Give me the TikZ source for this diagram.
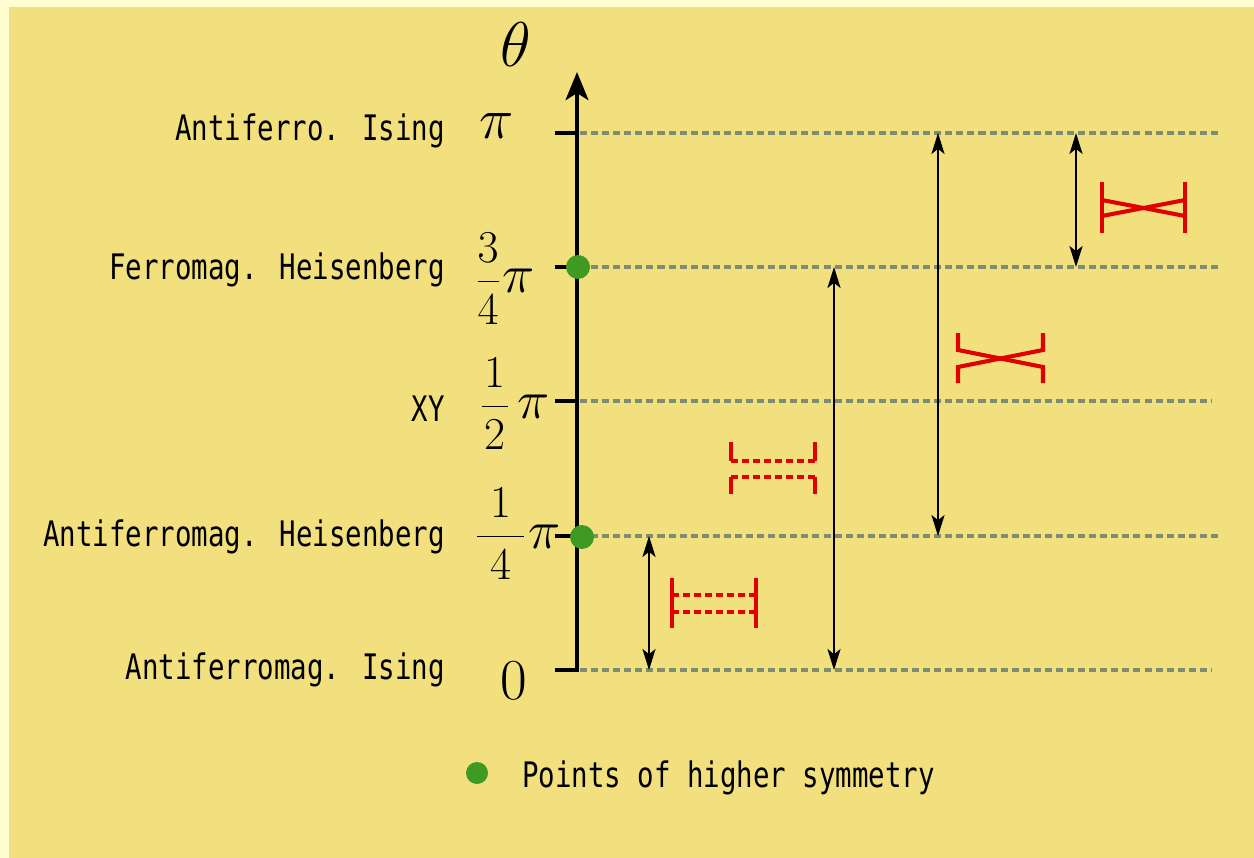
\documentclass[tikz,border=0pt]{standalone}
\usepackage{fix-cm}
\usepackage{fontspec}
\newfontfamily\phasefont[FakeStretch=0.78]{DejaVu Sans Mono}
\usetikzlibrary{arrows.meta}
\definecolor{bgyellow}{RGB}{242,224,126}
\definecolor{bgedge}{RGB}{255,253,208}
\definecolor{levelgray}{RGB}{126,140,114}
\definecolor{symred}{RGB}{224,0,0}
\definecolor{symgreen}{RGB}{62,154,34}
\newcommand{\bigpi}{{\fontsize{31}{36}\selectfont$\pi$}}

\begin{document}
\begin{tikzpicture}[x=0.02cm, y=-0.02cm,
    axis/.style={line width=2.3pt},
    level/.style={draw=levelgray, line width=2.3pt, dash pattern=on 4pt off 2.3pt},
    span/.style={{Stealth[length=12pt,width=7.5pt,inset=3pt]}-{Stealth[length=12pt,width=7.5pt,inset=3pt]}, line width=0.85pt},
    bond/.style={draw=symred, line width=2.3pt},
    weakbond/.style={bond, dash pattern=on 4pt off 2.3pt},
    phase/.style={anchor=base east, inner sep=0pt, font=\phasefont\fontsize{20}{24}\selectfont},
    val/.style={inner sep=0pt, font=\fontsize{33}{38}\selectfont},
    frac/.style={anchor=base east, inner sep=0pt, font=\fontsize{26}{30}\selectfont},
    dot/.style={circle, fill=symgreen, inner sep=0pt, minimum size=0.48cm}
  ]
  \fill[bgedge] (0,0) rectangle (1254,858);
  \fill[bgyellow] (9,7) rectangle (1254,858);
  \useasboundingbox (0,0) rectangle (1254,858);

  \coordinate (t0) at (577,670);
  \coordinate (t1) at (577,536);
  \coordinate (t2) at (577,401);
  \coordinate (t3) at (577,267);
  \coordinate (t4) at (577,133);
  \coordinate (tip) at (577,72);
  \coordinate (r1) at (1220,0);
  \coordinate (r2) at (1212,0);
  \coordinate (c1) at (649,0);
  \coordinate (c2) at (834,0);
  \coordinate (c3) at (938,0);
  \coordinate (c4) at (1076,0);

  \draw[level] ([xshift=0.06cm]t4) -- (t4 -| r1);
  \draw[level] ([xshift=0.06cm]t3) -- (t3 -| r1);
  \draw[level] ([xshift=0.06cm]t2) -- (t2 -| r2);
  \draw[level] ([xshift=0.06cm]t1) -- (t1 -| r1);
  \draw[level] ([xshift=0.06cm]t0) -- (t0 -| r2);

  \draw[axis, -{Stealth[length=16pt,width=13pt,inset=4pt]}] ([xshift=-0.44cm]t0) -- (t0) -- (tip);
  \foreach \t in {t1,t2,t3,t4}
    \draw[axis] ([xshift=-0.44cm]\t) -- (\t);

  \node[val, font=\fontsize{36}{40}\selectfont] (theta) at (516,45) {$\theta$};
  \node[val] (v4) at (497,126) {$\pi$};
  \node[frac] (v3) at (535,293) {$\displaystyle\frac{3}{4}$\kern1pt\bigpi};
  \node[frac] (v2) at (550,418) {$\displaystyle\frac{\mkern1mu 1\mkern1mu}{\mkern1mu 2\mkern1mu}\mkern3mu$\bigpi};
  \node[frac] (v1) at (561,548) {$\displaystyle\frac{\mkern5mu 1\mkern5mu}{\mkern5mu 4\mkern5mu}\mkern1mu$\bigpi};
  \node[val] (v0) at (514,681) {$0$};

  \node[dot] (p3) at (578,267) {};
  \node[dot] (p1) at (582,537) {};

  \node[phase] (afis) at (445,141) {Antiferro. Ising};
  \node[phase] (fheis) at (445,279) {Ferromag. Heisenberg};
  \node[phase] (xy) at (445,421) {XY};
  \node[phase] (afheis) at (445,546) {Antiferromag. Heisenberg};
  \node[phase] (afising) at (445,679) {Antiferromag. Ising};

  \draw[span] (c1 |- t1) -- (c1 |- t0);
  \draw[span] (c2 |- t3) -- (c2 |- t0);
  \draw[span] (c3 |- t4) -- (c3 |- t1);
  \draw[span] (c4 |- t4) -- (c4 |- t3);

  \draw[bond] (672,578) -- (672,628);
  \draw[bond] (756,578) -- (756,628);
  \draw[weakbond] (672,595) -- (756,595);
  \draw[weakbond] (672,612) -- (756,612);

  \draw[bond] (731,442) -- (731,461);
  \draw[bond] (815,442) -- (815,461);
  \draw[weakbond] (731,461) -- (815,461);
  \draw[weakbond] (731,477) -- (815,477);
  \draw[bond] (731,477) -- (731,494);
  \draw[bond] (815,477) -- (815,494);

  \draw[bond] (958,333) -- (958,350) -- (1043,367) -- (1043,383);
  \draw[bond] (1043,333) -- (1043,350) -- (958,367) -- (958,383);

  \draw[bond] (1102,182) -- (1102,233);
  \draw[bond] (1185,182) -- (1185,233);
  \draw[bond] (1102,200) -- (1185,216);
  \draw[bond] (1102,216) -- (1185,200);

  \node[dot, minimum size=0.44cm] (key) at (477,773) {};
  \node[phase, anchor=base west] (keytext) at (522,787) {Points of higher symmetry};
\end{tikzpicture}
\end{document}
